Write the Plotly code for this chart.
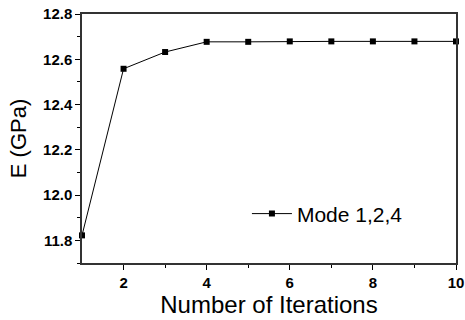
import plotly.graph_objects as go

iterations = [1, 2, 3, 4, 5, 6, 7, 8, 9, 10]
e_gpa = [11.822, 12.558, 12.632, 12.677, 12.677, 12.679, 12.679, 12.679, 12.679, 12.679]
series_name = "Mode 1,2,4"
x_ticks = [2, 4, 6, 8, 10]
x_minor = [3, 5, 7, 9]
y_ticks = [11.8, 12.0, 12.2, 12.4, 12.6, 12.8]
y_minor = [11.7, 11.9, 12.1, 12.3, 12.5, 12.7]

FONT = "Liberation Sans, Arial"

fig = go.Figure()
fig.add_trace(go.Scatter(
    x=iterations, y=e_gpa, mode="lines+markers", name=series_name,
    line=dict(color="black", width=1),
    marker=dict(symbol="square", size=6, color="black"),
    cliponaxis=False,
))

tickfont = dict(family=FONT, size=15, color="black", weight="bold")
fig.update_layout(
    width=465, height=320,
    margin=dict(l=82, r=9, t=14, b=57, autoexpand=False),
    paper_bgcolor="white", plot_bgcolor="white",
    showlegend=True,
    legend=dict(x=0.441, y=0.197, xanchor="left", yanchor="middle",
                bgcolor="rgba(0,0,0,0)",
                font=dict(family=FONT, size=21, color="black"),
                itemwidth=40),
    xaxis=dict(
        range=[1, 10], tickvals=x_ticks, ticktext=[str(v) for v in x_ticks],
        showgrid=False, zeroline=False, automargin=False,
        ticklabeloverflow="allow",
        showline=True, linecolor="#333", linewidth=1.5, mirror=True,
        ticks="outside", ticklen=5, tickcolor="black", tickwidth=1,
        minor=dict(tickvals=x_minor, ticks="outside", ticklen=3, tickcolor="black"),
        tickfont=tickfont,
        title=dict(text="Number of Iterations", font=dict(family=FONT, size=24, color="black"), standoff=3),
    ),
    yaxis=dict(
        range=[11.7, 12.8], tickvals=y_ticks, ticktext=[f"{v:.1f}" for v in y_ticks],
        showgrid=False, zeroline=False, automargin=False,
        ticklabeloverflow="allow",
        showline=True, linecolor="#333", linewidth=1.5, mirror=True,
        ticks="outside", ticklen=5, tickcolor="black", tickwidth=1,
        minor=dict(tickvals=y_minor, ticks="outside", ticklen=3, tickcolor="black"),
        tickfont=tickfont,
        title=dict(text="E (GPa)", font=dict(family=FONT, size=22, color="black"), standoff=10),
    ),
)

fig.write_html("out.html", config={"displayModeBar": False},
               post_script="document.body.style.margin='0';")
